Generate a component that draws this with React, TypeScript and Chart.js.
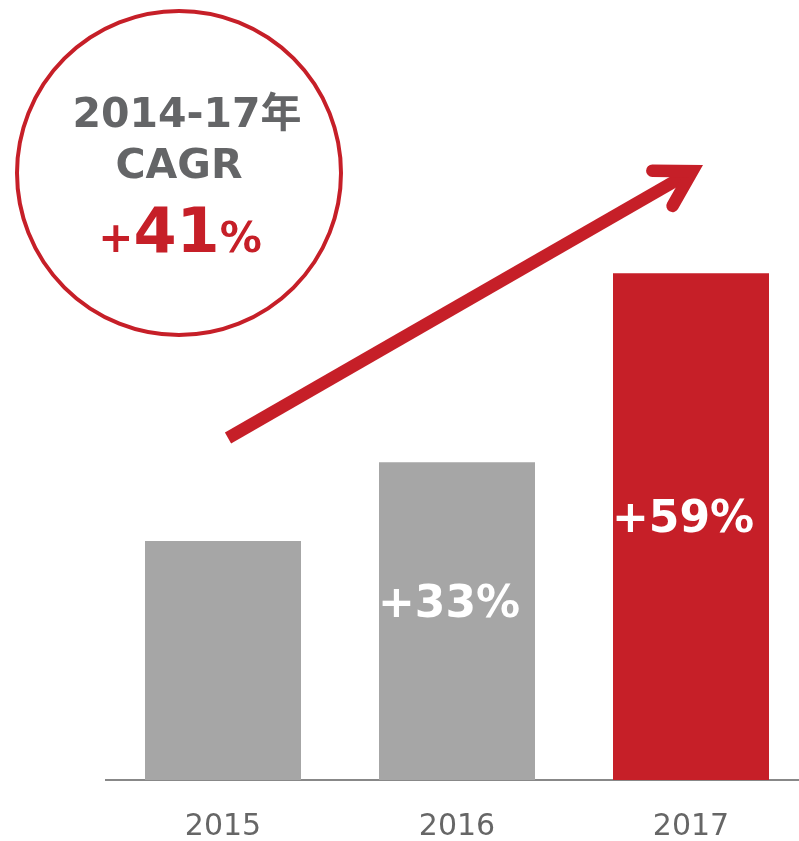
import React, { useEffect, useRef } from "react";
import { Chart, registerables } from "chart.js";

Chart.register(...registerables);

// ---- data ----
const categories = ["2015", "2016", "2017"];
const indexValues = [100, 133, 212];
const growthLabels = ["", "+33%", "+59%"];
const barColors = ["#A6A6A6", "#A6A6A6", "#C61F28"];
const cagrTitleLines = ["2014-17年", "CAGR"];
const cagrPrefix = "+";
const cagrNumber = "41";
const cagrSuffix = "%";

const RED = "#C61F28";
const GREY_TEXT = "#646567";
const FONT = '"DejaVu Sans", "Noto Sans CJK JP", sans-serif';

const labelNudge = [0, -4, 5.5];

const barLabelPlugin = {
  id: "barLabels",
  afterDatasetsDraw(chart: any) {
    const ctx = chart.ctx;
    const meta = chart.getDatasetMeta(0);
    ctx.save();
    ctx.font = `bold 44px ${FONT}`;
    ctx.fillStyle = "#FFFFFF";
    ctx.textAlign = "center";
    ctx.textBaseline = "alphabetic";
    meta.data.forEach((bar: any, i: number) => {
      const label = growthLabels[i];
      if (!label) return;
      const p = bar.getProps(["x", "y", "base"], true);
      const mid = (p.y + p.base) / 2;
      ctx.fillText(label, p.x - 8, mid + labelNudge[i]);
    });
    ctx.restore();
  },
};

const calloutPlugin = {
  id: "callout",
  afterDraw(chart: any) {
    const ctx = chart.ctx;
    ctx.save();
    // circle
    ctx.beginPath();
    ctx.arc(179, 173, 162, 0, Math.PI * 2);
    ctx.lineWidth = 4;
    ctx.strokeStyle = RED;
    ctx.stroke();

    // title text
    ctx.fillStyle = GREY_TEXT;
    ctx.textAlign = "center";
    ctx.textBaseline = "alphabetic";
    ctx.font = `bold 41px ${FONT}`;
    ctx.fillText(cagrTitleLines[0], 187, 127);
    ctx.fillText(cagrTitleLines[1], 179, 178);

    // +41%
    ctx.fillStyle = RED;
    ctx.textAlign = "left";
    const smallFont = `bold 42px ${FONT}`;
    const bigFont = `bold 62px ${FONT}`;
    ctx.font = smallFont;
    const wp = ctx.measureText(cagrPrefix).width;
    const ws = ctx.measureText(cagrSuffix).width;
    ctx.font = bigFont;
    const wn = ctx.measureText(cagrNumber).width;
    const total = wp + wn + ws;
    let x = 180 - total / 2;
    const baseY = 252;
    ctx.font = smallFont;
    ctx.fillText(cagrPrefix, x, baseY);
    x += wp;
    ctx.font = bigFont;
    ctx.fillText(cagrNumber, x, baseY);
    x += wn;
    ctx.font = smallFont;
    ctx.fillText(cagrSuffix, x, baseY);

    // arrow
    const sx = 228, sy = 438, tx = 703, ty = 165;
    const ang = Math.atan2(ty - sy, tx - sx);
    const w = 12.5;
    const half = (30.5 * Math.PI) / 180;
    const inset = w / 2 / Math.sin(half);
    const vx = tx - inset * Math.cos(ang);
    const vy = ty - inset * Math.sin(ang);
    ctx.strokeStyle = RED;
    ctx.lineWidth = w;
    ctx.lineCap = "butt";
    ctx.beginPath();
    ctx.moveTo(sx, sy);
    ctx.lineTo(vx - 4 * Math.cos(ang), vy - 4 * Math.sin(ang));
    ctx.stroke();
    const back = ang + Math.PI;
    const armLen = 40;
    ctx.lineCap = "round";
    ctx.lineJoin = "miter";
    ctx.miterLimit = 10;
    ctx.beginPath();
    ctx.moveTo(vx + armLen * Math.cos(back + half), vy + armLen * Math.sin(back + half));
    ctx.lineTo(vx, vy);
    ctx.lineTo(vx + armLen * Math.cos(back - half), vy + armLen * Math.sin(back - half));
    ctx.stroke();
    ctx.restore();
  },
};

export default function App() {
  const canvasRef = useRef<HTMLCanvasElement | null>(null);

  useEffect(() => {
    document.documentElement.style.overflow = "hidden";
    document.body.style.margin = "0";
    const canvas = canvasRef.current;
    if (!canvas) return;
    const chart = new Chart(canvas, {
      type: "bar",
      data: {
        labels: categories,
        datasets: [
          {
            data: indexValues,
            backgroundColor: barColors,
            borderWidth: 0,
            categoryPercentage: 1,
            barPercentage: 2 / 3,
          },
        ],
      },
      options: {
        animation: false,
        responsive: true,
        maintainAspectRatio: false,
        layout: { padding: { left: 106, right: 2, top: 63, bottom: 0 } },
        plugins: {
          legend: { display: false },
          tooltip: { enabled: false },
          title: { display: false },
        },
        scales: {
          x: {
            grid: { display: false, drawTicks: false },
            border: { display: true, color: "#888888", width: 2 },
            ticks: {
              color: "#666666",
              font: { family: FONT, size: 30 },
              padding: 29,
            },
            afterFit(scale: any) {
              scale.height = 61;
            },
          },
          y: {
            display: false,
            min: 0,
            max: 300,
          },
        },
      },
      plugins: [barLabelPlugin, calloutPlugin],
    });
    return () => chart.destroy();
  }, []);

  return (
    <div style={{ position: "relative", width: 810, height: 841 }}>
      <canvas ref={canvasRef} />
    </div>
  );
}
